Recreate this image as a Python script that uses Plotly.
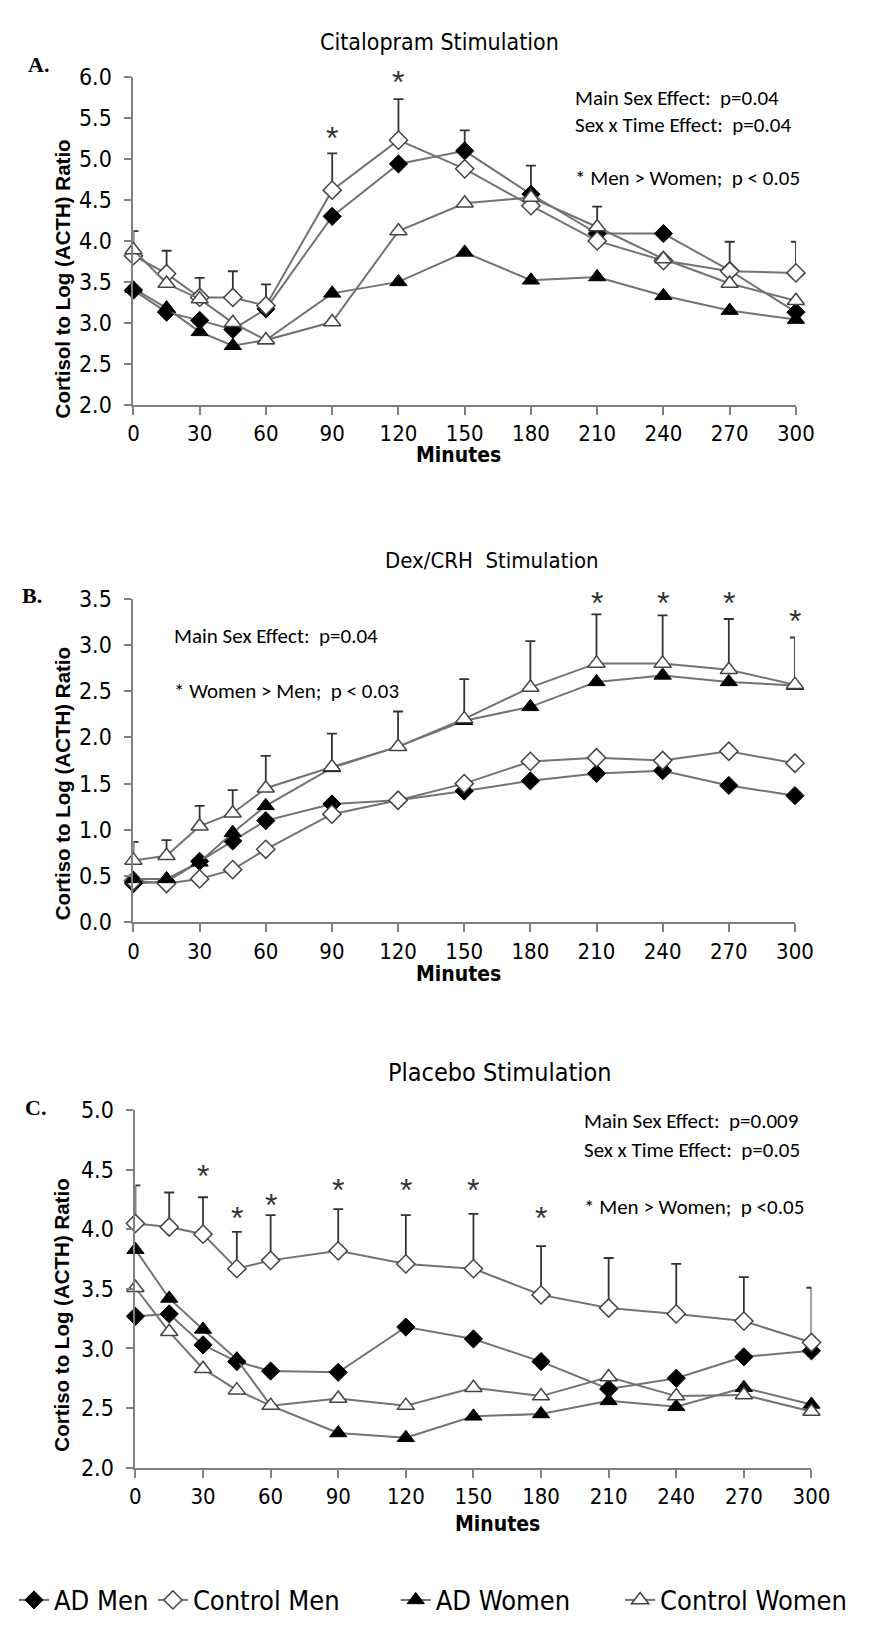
import plotly.graph_objects as go

# ---------------- data ----------------
times = [0, 15, 30, 45, 60, 90, 120, 150, 180, 210, 240, 270, 300]
series_names = ["AD Men", "Control Men", "AD Women", "Control Women"]

# Panel A: Citalopram Stimulation
a_ad_men = [3.40, 3.13, 3.03, 2.92, 3.17, 4.30, 4.94, 5.10, 4.57, 4.09, 4.09, 3.64, 3.13]
a_ctrl_men = [3.82, 3.60, 3.31, 3.31, 3.21, 4.62, 5.23, 4.88, 4.43, 4.00, 3.76, 3.63, 3.61]
a_ad_women = [3.42, 3.18, 2.89, 2.72, 2.79, 3.36, 3.50, 3.86, 3.52, 3.56, 3.33, 3.15, 3.04]
a_ctrl_women = [3.89, 3.48, 3.29, 3.00, 2.79, 3.01, 4.12, 4.46, 4.53, 4.17, 3.78, 3.48, 3.27]
a_err_top = [4.12, 3.88, 3.55, 3.63, 3.47, 5.07, 5.73, 5.35, 4.92, 4.42, None, 3.99, 3.99]
a_err_from = ["Control Women", "Control Men", "Control Men", "Control Men", "Control Men",
              "Control Men", "Control Men", "AD Men", "AD Men", "Control Women", None,
              "AD Men", "Control Men"]
a_star_t = [90, 120]
a_star_y = [5.37, 6.05]

# Panel B: Dex/CRH Stimulation
b_ad_men = [0.42, 0.44, 0.66, 0.88, 1.10, 1.28, 1.32, 1.42, 1.53, 1.61, 1.64, 1.48, 1.37]
b_ctrl_men = [0.45, 0.42, 0.47, 0.57, 0.79, 1.17, 1.32, 1.50, 1.74, 1.78, 1.75, 1.85, 1.72]
b_ad_women = [0.47, 0.47, 0.65, 0.97, 1.26, 1.67, 1.90, 2.18, 2.33, 2.60, 2.67, 2.60, 2.56]
b_ctrl_women = [0.67, 0.72, 1.04, 1.18, 1.45, 1.68, 1.90, 2.20, 2.54, 2.80, 2.80, 2.73, 2.57]
b_err_top = [0.87, 0.89, 1.26, 1.43, 1.80, 2.04, 2.28, 2.63, 3.04, 3.33, 3.32, 3.28, 3.08]
b_err_from = ["Control Women"] * 13
b_star_t = [210, 240, 270, 300]
b_star_y = [3.55, 3.55, 3.55, 3.36]

# Panel C: Placebo Stimulation
c_ad_men = [3.27, 3.29, 3.03, 2.89, 2.81, 2.80, 3.18, 3.08, 2.89, 2.66, 2.75, 2.93, 2.98]
c_ctrl_men = [4.05, 4.02, 3.96, 3.67, 3.74, 3.82, 3.71, 3.67, 3.45, 3.34, 3.29, 3.23, 3.05]
c_ad_women = [3.83, 3.42, 3.16, 2.91, 2.52, 2.29, 2.25, 2.43, 2.45, 2.56, 2.51, 2.67, 2.53]
c_ctrl_women = [3.51, 3.14, 2.83, 2.65, 2.52, 2.58, 2.52, 2.67, 2.60, 2.76, 2.60, 2.61, 2.47]
c_err_top = [4.37, 4.31, 4.27, 3.98, 4.12, 4.17, 4.12, 4.13, 3.86, 3.76, 3.71, 3.60, 3.51]
c_err_from = ["Control Men"] * 13
c_star_t = [30, 45, 60, 90, 120, 150, 180]
c_star_y = [4.52, 4.17, 4.28, 4.41, 4.41, 4.41, 4.17]

x_ticks = [0, 30, 60, 90, 120, 150, 180, 210, 240, 270, 300]

# ---------------- layout helpers ----------------
W, H = 872, 1629
def fx(px):
    return px / W
def fy(py):
    return 1 - py / H

NARROW = "Liberation Sans Narrow, Arial Narrow, DejaVu Sans Condensed, Liberation Sans, sans-serif"
ARIAL = "Liberation Sans, Arial, sans-serif"
CAL = "Carlito, Lato, sans-serif"
SERIF = "Liberation Serif, Times New Roman, serif"

LINE_GREY = "#737373"
AXIS_GREY = "#808080"

styles = {
    "AD Men": dict(symbol="diamond", size=14, color="black", line=dict(color="black", width=1)),
    "Control Men": dict(symbol="diamond", size=14, color="white", line=dict(color="#444444", width=1.5)),
    "AD Women": dict(symbol="triangle-up", size=15, color="black", line=dict(color="black", width=1)),
    "Control Women": dict(symbol="triangle-up", size=15, color="white", line=dict(color="#444444", width=1.5)),
}
legend_ids = {"AD Men": "legend", "Control Men": "legend2", "AD Women": "legend3", "Control Women": "legend4"}

panels = [
    dict(ax="", sax="4", series=[a_ad_men, a_ctrl_men, a_ad_women, a_ctrl_women], err_top=a_err_top,
         err_from=a_err_from, star_t=a_star_t, star_y=a_star_y,
         xdom=(123, 805), ydom=(390, 57), yrange=[2, 6], dtick=0.5),
    dict(ax="2", sax="5", series=[b_ad_men, b_ctrl_men, b_ad_women, b_ctrl_women], err_top=b_err_top,
         err_from=b_err_from, star_t=b_star_t, star_y=b_star_y,
         xdom=(123, 804), ydom=(916, 587), yrange=[0, 3.5], dtick=0.5),
    dict(ax="3", sax="6", series=[c_ad_men, c_ctrl_men, c_ad_women, c_ctrl_women], err_top=c_err_top,
         err_from=c_err_from, star_t=c_star_t, star_y=c_star_y,
         xdom=(125, 821), ydom=(1470, 1107), yrange=[2, 5], dtick=0.5),
]

fig = go.Figure()
layout = dict(width=W, height=H, margin=dict(l=0, r=0, t=0, b=0),
              paper_bgcolor="white", plot_bgcolor="rgba(0,0,0,0)", showlegend=True)
annotations = []

for pi, p in enumerate(panels):
    xa = "x" + p["ax"]
    ya = "y" + p["ax"]
    sa = "y" + p["sax"]
    values = dict(zip(series_names, p["series"]))

    # hidden companion y axis with the same scale, extended upward, to hold the stars
    y0, y1 = p["yrange"]
    px_per_unit = (p["ydom"][0] - p["ydom"][1]) / (y1 - y0)
    ext = 0.6
    layout["yaxis" + p["sax"]] = dict(
        domain=[fy(p["ydom"][0]), fy(p["ydom"][1] - ext * px_per_unit)],
        range=[y0, y1 + ext], anchor=xa, visible=False, showgrid=False, zeroline=False)
    fig.add_trace(go.Scatter(x=[p["star_t"][0]], y=[y0], xaxis=xa, yaxis=sa, mode="markers",
                             marker=dict(size=1, color="rgba(0,0,0,0)"), showlegend=False,
                             hoverinfo="skip"))
    for t, yv in zip(p["star_t"], p["star_y"]):
        annotations.append(dict(text="*", x=t, y=yv, xref=xa, yref=sa, showarrow=False,
                                xanchor="center", yanchor="middle", yshift=-9,
                                font=dict(family=ARIAL, size=32, color="#333333")))

    # upper error bars, drawn first so the markers sit on top
    ex, ey, ee = [], [], []
    for i, t in enumerate(times):
        top = p["err_top"][i]
        src = p["err_from"][i]
        if top is None or src is None:
            continue
        base = values[src][i]
        ex.append(t)
        ey.append(base)
        ee.append(top - base)
    fig.add_trace(go.Scatter(
        x=ex, y=ey, mode="markers", xaxis=xa, yaxis=ya, showlegend=False,
        marker=dict(size=1, color="rgba(0,0,0,0)"), hoverinfo="skip",
        error_y=dict(type="data", symmetric=False, array=ee, arrayminus=[0] * len(ee),
                     color="#333333", thickness=1.8, width=5),
        cliponaxis=False))
    for name in series_names:
        st = styles[name]
        fig.add_trace(go.Scatter(
            x=times, y=values[name], mode="lines+markers", name=name,
            xaxis=xa, yaxis=ya, cliponaxis=False,
            line=dict(color=LINE_GREY, width=2),
            marker=dict(symbol=st["symbol"], size=st["size"], color=st["color"], line=st["line"]),
            showlegend=(pi == 0), legend=legend_ids[name]))

    layout["xaxis" + p["ax"]] = dict(
        domain=[fx(p["xdom"][0]), fx(p["xdom"][1])], range=[0, 300], anchor=ya,
        tickmode="array", tickvals=x_ticks, ticktext=[str(v) for v in x_ticks],
        showline=True, linecolor=AXIS_GREY, linewidth=2, ticks="outside", ticklen=8,
        tickwidth=2, tickcolor=AXIS_GREY, showgrid=False, zeroline=False,
        tickfont=dict(family=NARROW, size=22, color="black"))
    layout["yaxis" + p["ax"]] = dict(
        domain=[fy(p["ydom"][0]), fy(p["ydom"][1])], range=p["yrange"], anchor=xa,
        dtick=p["dtick"], tick0=0, tickformat=".1f",
        showline=True, linecolor=AXIS_GREY, linewidth=2, ticks="outside", ticklen=7,
        tickwidth=2, tickcolor=AXIS_GREY, showgrid=False, zeroline=False,
        ticklabelstandoff=8,
        tickfont=dict(family=NARROW, size=23, color="black"))

# one legend per entry so each sits where the reference has it (kept inside the page)
leg_x = {"legend": 0, "legend2": 143, "legend3": 393, "legend4": 624}
for lid, lx in leg_x.items():
    layout[lid] = dict(x=fx(lx), y=fy(1605), xanchor="left", yanchor="middle",
                       orientation="h", bgcolor="rgba(0,0,0,0)", itemwidth=30,
                       font=dict(family=NARROW, size=27, color="black"))

def ann(text, px, py, size, family, xanchor="center", angle=0, color="black"):
    return dict(text=text, x=fx(px), y=fy(py), xref="paper", yref="paper",
                xanchor=xanchor, yanchor="middle", showarrow=False, textangle=angle,
                font=dict(family=family, size=size, color=color))

annotations += [
    # titles
    ann("Citalopram Stimulation", 438, 21, 23, NARROW),
    ann("Dex/CRH  Stimulation", 492, 548, 22, NARROW),
    ann("Placebo Stimulation", 500, 1069, 25, NARROW),
    # panel letters
    ann("<b>A.</b>", 25, 44, 22, SERIF),
    ann("<b>B.</b>", 19, 584, 22, SERIF),
    ann("<b>C.</b>", 22, 1104, 22, SERIF),
    # y titles
    ann("<b>Cortisol to Log (ACTH) Ratio</b>", 50, 262, 20.5, ARIAL, angle=-90),
    ann("<b>Cortiso to Log (ACTH) Ratio</b>", 50, 775, 20.5, ARIAL, angle=-90),
    ann("<b>Cortiso to Log (ACTH) Ratio</b>", 48, 1315, 20.5, ARIAL, angle=-90),
    # x titles
    ann("<b>Minutes</b>", 458, 441, 21, NARROW),
    ann("<b>Minutes</b>", 458, 968, 21, NARROW),
    ann("<b>Minutes</b>", 498, 1527, 21, NARROW),
    # statistics text
    ann("Main Sex Effect:  p=0.04", 575, 78, 21, CAL, xanchor="left"),
    ann("Sex x Time Effect:  p=0.04", 575, 106, 21, CAL, xanchor="left"),
    ann("* Men > Women;  p < 0.05", 575, 160, 21, CAL, xanchor="left"),
    ann("Main Sex Effect:  p=0.04", 163, 625, 21, CAL, xanchor="left"),
    ann("* Women > Men;  p < 0.03", 163, 681, 21, CAL, xanchor="left"),
    ann("Main Sex Effect:  p=0.009", 585, 1118, 21, CAL, xanchor="left"),
    ann("Sex x Time Effect:  p=0.05", 585, 1147, 21, CAL, xanchor="left"),
    ann("* Men > Women;  p <0.05", 585, 1205, 21, CAL, xanchor="left"),
]
layout["annotations"] = annotations
fig.update_layout(**layout)
fig.write_html("out.html")
